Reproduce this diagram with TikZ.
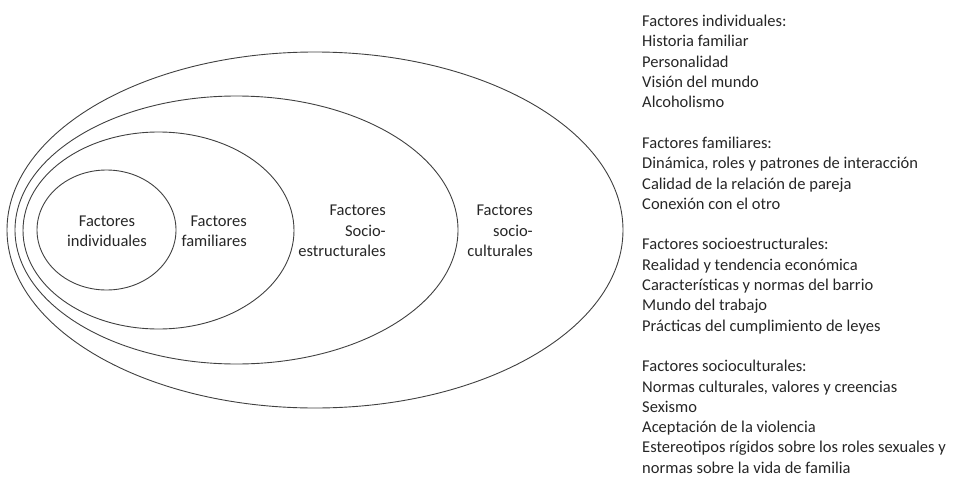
\documentclass[tikz,border=0pt]{standalone}
\usepackage{fontspec}
\setmainfont{Carlito}
\usepackage{tikz}
\usetikzlibrary{shapes.geometric, positioning}

\begin{document}
\begin{tikzpicture}[
    x=1pt, y=-1pt,
    ring/.style={ellipse, draw=black!75, line width=0.9pt, inner sep=0pt},
    ringtext/.style={inner sep=0pt, font=\fontsize{16.5}{20.4}\selectfont, text=black!85},
    listtext/.style={inner sep=0pt, align=left, font=\fontsize{16.5}{20.3}\selectfont, text=black!85}
]
\useasboundingbox (0,0) rectangle (958,479);

% Nested ellipses
\node[ring, minimum width=616, minimum height=356] (socioculturales) at (315,230) {};
\node[ring, minimum width=443, minimum height=268] (socioestructurales) at (236.5,230) {};
\node[ring, minimum width=271, minimum height=197] (familiares) at (158.5,230.5) {};
\node[ring, minimum width=139, minimum height=120] (individuales) at (106.5,230) {};

% Labels inside
\node[ringtext, align=center] (txtind) at (107,231) {Factores\\individuales};
\node[ringtext, align=right, anchor=east] (txtfam) at (247,231) {Factores\\familiares};
\node[ringtext, align=right, anchor=east] (txtest) at (386,231) {Factores\\Socio-\\estructurales};
\node[ringtext, align=right, anchor=east] (txtcul) at (533,231) {Factores\\socio-\\culturales};

% List of factors
\node[listtext, anchor=north west] (lista) at (642,15) {Factores individuales:\\
Historia familiar\\
Personalidad\\
Visión del mundo\\
Alcoholismo\\[20.3pt]
Factores familiares:\\
Dinámica, roles y patrones de interacción\\
Calidad de la relación de pareja\\
Conexión con el otro\\[20.3pt]
Factores socioestructurales:\\
Realidad y tendencia económica\\
Características y normas del barrio\\
Mundo del trabajo\\
Prácticas del cumplimiento de leyes\\[20.3pt]
Factores socioculturales:\\
Normas culturales, valores y creencias\\
Sexismo\\
Aceptación de la violencia\\
Estereotipos rígidos sobre los roles sexuales y\\
normas sobre la vida de familia};

\end{tikzpicture}
\end{document}
